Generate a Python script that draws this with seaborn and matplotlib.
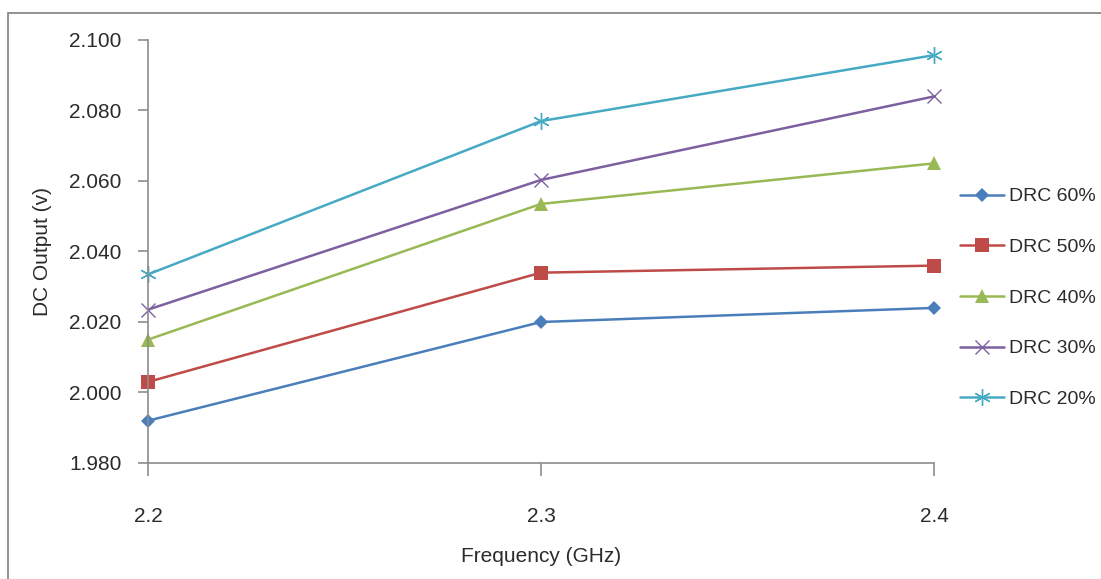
import matplotlib
matplotlib.use("Agg")
import matplotlib.pyplot as plt
from matplotlib.patches import Rectangle
import seaborn as sns
import pandas as pd

# Measured DC output of the rectifier versus frequency for several DRC settings
frequency = [2.2, 2.3, 2.4]
series_names = ["DRC 60%", "DRC 50%", "DRC 40%", "DRC 30%", "DRC 20%"]
drc_60 = [1.992, 2.020, 2.024]
drc_50 = [2.003, 2.034, 2.036]
drc_40 = [2.015, 2.0535, 2.065]
drc_30 = [2.0235, 2.0603, 2.084]
drc_20 = [2.0335, 2.077, 2.0957]
y_ticks = [1.980, 2.000, 2.020, 2.040, 2.060, 2.080, 2.100]
x_ticks = [2.2, 2.3, 2.4]

all_values = [drc_60, drc_50, drc_40, drc_30, drc_20]
df = pd.DataFrame(
    {
        "Frequency": frequency * len(series_names),
        "DC": [v for vals in all_values for v in vals],
        "Series": [n for n in series_names for _ in frequency],
    }
)

sns.set_theme(style="white")
plt.rcParams["font.family"] = ["Liberation Sans", "DejaVu Sans"]

colors = ["#4A7EBB", "#BE4B48", "#98B954", "#7D60A0", "#46AAC5"]
markers = ["D", "s", "^", "x", (6, 2, 0)]
msizes = [7, 9.5, 10, 10, 12]
mews = [0, 0, 0, 1.0, 1.0]

W, H = 1101, 579
fig = plt.figure(figsize=(W / 100, H / 100), dpi=100)
ax = fig.add_axes([148 / W, 1 - 463 / H, (934 - 148) / W, (463 - 40) / H])

for name, col, mk, ms, mew in zip(series_names, colors, markers, msizes, mews):
    sub = df[df["Series"] == name]
    sns.lineplot(
        data=sub, x="Frequency", y="DC", ax=ax, color=col, marker=mk,
        markersize=ms, markeredgewidth=mew, markeredgecolor=col,
        linewidth=1.8, label=name, clip_on=False,
    )

ax.set_xlim(2.2, 2.4)
ax.set_ylim(1.980, 2.100)
ax.set_xticks(x_ticks)
ax.set_xticklabels([f"{v:.1f}" for v in x_ticks])
ax.set_yticks(y_ticks)
ax.set_yticklabels([f"{v:.3f}" for v in y_ticks])

axis_gray = "#8C8C8C"
text_color = "#2B2B2B"
for side in ["top", "right"]:
    ax.spines[side].set_visible(False)
for side in ["left", "bottom"]:
    ax.spines[side].set_color(axis_gray)
    ax.spines[side].set_linewidth(1.2)
ax.tick_params(axis="y", direction="out", length=7, width=1.2, color=axis_gray,
               labelsize=15, labelcolor=text_color, pad=12, left=True)
ax.tick_params(axis="x", direction="out", length=9, width=1.2, color=axis_gray,
               labelsize=15, labelcolor=text_color, pad=23, bottom=True)

ax.set_xlabel("Frequency (GHz)", fontsize=15, color=text_color, labelpad=15)
ax.set_ylabel("DC Output (v)", fontsize=15, color=text_color, labelpad=12)

leg = ax.legend(
    loc="center left", bbox_to_anchor=(942 / W, 1 - 298 / H),
    bbox_transform=fig.transFigure, frameon=False, fontsize=14,
    handlelength=2.3, handletextpad=0.25, labelspacing=1.7,
)
for t in leg.get_texts():
    t.set_color(text_color)

# Outer chart frame
fig.patches.append(
    Rectangle((8 / W, -0.1), 1.2, 1.1 - 13 / H, transform=fig.transFigure,
              fill=False, edgecolor="#7F7F7F", linewidth=1.2)
)

fig.savefig("out.png", dpi=100)
